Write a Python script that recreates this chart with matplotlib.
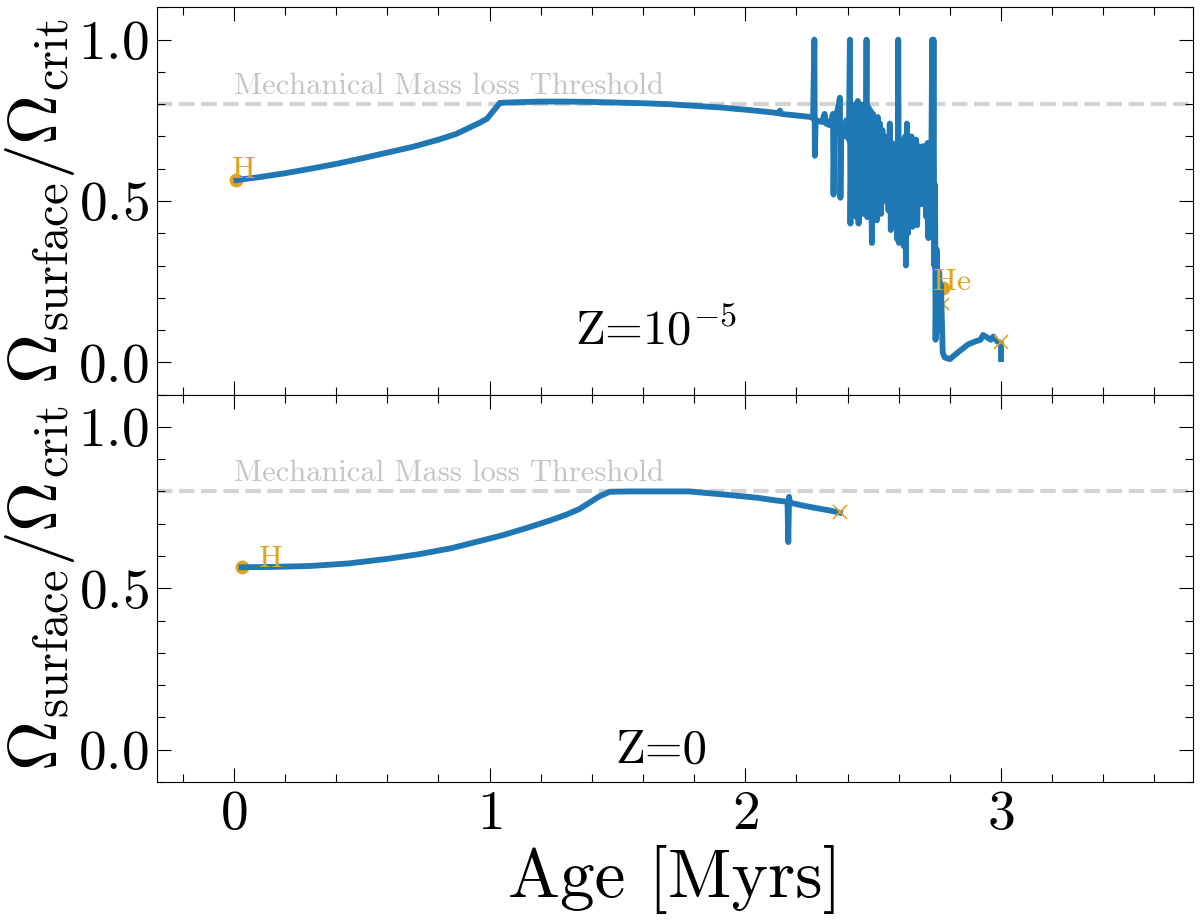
import matplotlib
matplotlib.use("Agg")
import matplotlib.pyplot as plt
from matplotlib.ticker import MultipleLocator

plt.rcParams["font.family"] = "serif"
plt.rcParams["font.serif"] = ["cmr10"]
plt.rcParams["mathtext.fontset"] = "cm"
plt.rcParams["axes.formatter.use_mathtext"] = True

# Z = 1e-5 track (age in Myr, Omega_surf / Omega_crit)
age_z5 = [0.01, 0.1, 0.2, 0.3, 0.4, 0.5, 0.6, 0.7, 0.8, 0.87, 0.92, 0.96, 0.99, 1.04,
          1.1, 1.2, 1.3, 1.4, 1.5, 1.6, 1.7, 1.8, 1.9, 2.0, 2.1, 2.13, 2.135, 2.14, 2.2, 2.26,
          2.265, 2.270, 2.272, 2.275, 2.30, 2.31, 2.315, 2.33, 2.343, 2.345, 2.348,
          2.37, 2.372, 2.375, 2.39, 2.395, 2.405, 2.409, 2.411, 2.415,
          2.420, 2.425, 2.430, 2.435, 2.440, 2.443, 2.448, 2.452, 2.456, 2.460,
          2.465, 2.470, 2.474, 2.477, 2.482, 2.486, 2.490, 2.495, 2.500, 2.505,
          2.510, 2.514, 2.518, 2.522, 2.527, 2.531, 2.536, 2.540, 2.545, 2.550,
          2.556, 2.560, 2.565, 2.569, 2.574, 2.578, 2.583, 2.587, 2.592, 2.595,
          2.598, 2.601, 2.606, 2.610, 2.615, 2.620, 2.625, 2.628, 2.632, 2.636,
          2.641, 2.645, 2.650, 2.654, 2.659, 2.663, 2.668, 2.672, 2.677, 2.681,
          2.686, 2.690, 2.695, 2.699, 2.704, 2.708, 2.713, 2.716, 2.720, 2.724,
          2.728, 2.731, 2.733, 2.736, 2.739, 2.742, 2.744, 2.748, 2.752, 2.755,
          2.758, 2.762, 2.765, 2.768, 2.772, 2.78, 2.80, 2.83, 2.87, 2.90, 2.92,
          2.93, 2.96, 2.97, 2.985, 3.0, 3.0]
omega_z5 = [0.565, 0.574, 0.586, 0.600, 0.615, 0.632, 0.650, 0.668, 0.690, 0.708, 0.727, 0.742, 0.755, 0.804,
            0.806, 0.808, 0.808, 0.807, 0.805, 0.803, 0.800, 0.795, 0.790, 0.783, 0.775, 0.772, 0.78, 0.77, 0.765, 0.76,
            0.755, 1.00, 0.64, 0.75, 0.745, 0.77, 0.74, 0.735, 0.77, 0.52, 0.73,
            0.82, 0.51, 0.72, 0.70, 0.75, 0.69, 1.00, 0.43, 0.70,
            0.78, 0.47, 0.80, 0.45, 0.81, 0.43, 0.80, 0.50, 0.79, 0.46,
            0.80, 0.48, 1.00, 0.45, 0.79, 0.47, 0.78, 0.37, 0.77, 0.46,
            0.75, 0.44, 0.76, 0.48, 0.74, 0.46, 0.72, 0.50, 0.70, 0.52,
            0.69, 0.47, 0.74, 0.41, 0.68, 0.52, 0.66, 0.55, 0.67, 0.38,
            1.00, 0.37, 0.69, 0.45, 0.68, 0.36, 0.70, 0.30, 0.74, 0.40,
            0.69, 0.47, 0.70, 0.42, 0.68, 0.49, 0.69, 0.425, 0.67, 0.50,
            0.66, 0.49, 0.67, 0.50, 0.66, 0.45, 0.68, 0.385, 0.66, 0.45,
            0.68, 1.00, 0.40, 1.00, 0.30, 0.55, 0.07, 0.35, 0.25, 0.10,
            0.28, 0.20, 0.24, 0.15, 0.03, 0.015, 0.01, 0.03, 0.055, 0.065, 0.07,
            0.085, 0.07, 0.08, 0.065, 0.06, 0.01]

# Z = 0 track
age_z0 = [0.03, 0.15, 0.3, 0.45, 0.6, 0.72, 0.85, 0.97, 1.05, 1.15, 1.24, 1.3, 1.35, 1.39, 1.43, 1.47,
          1.55, 1.65, 1.78, 1.85, 1.95, 2.05, 2.12, 2.165, 2.168, 2.171, 2.175,
          2.22, 2.28, 2.33, 2.37]
omega_z0 = [0.565, 0.566, 0.569, 0.577, 0.591, 0.605, 0.624, 0.648, 0.664, 0.688, 0.711, 0.728, 0.745, 0.765, 0.785, 0.799,
            0.800, 0.800, 0.800, 0.795, 0.788, 0.780, 0.772, 0.768, 0.643, 0.783, 0.765,
            0.757, 0.748, 0.741, 0.734]

threshold = 0.8
orange = "#E0A41E"

fig, axes = plt.subplots(2, 1, figsize=(12, 9.22), dpi=100, sharex=True)
fig.subplots_adjust(left=0.131, right=0.994, top=0.992, bottom=0.152, hspace=0)

tracks = [(age_z5, omega_z5), (age_z0, omega_z0)]
for ax, (age, om) in zip(axes, tracks):
    ax.axhline(threshold, color="lightgray", ls="--", lw=3, zorder=1)
    ax.text(0.0, 0.832, "Mechanical Mass loss Threshold", color="#c4c4c4", fontsize=22)
    ax.plot(age[0], om[0], "o", color=orange, ms=9, zorder=2)
    ax.plot(age, om, color="#1f77b4", lw=4.2, zorder=3)
    ax.set_ylim(-0.1, 1.1)
    ax.set_xlim(-0.3, 3.75)
    ax.xaxis.set_major_locator(MultipleLocator(1))
    ax.xaxis.set_minor_locator(MultipleLocator(0.2))
    ax.yaxis.set_major_locator(MultipleLocator(0.5))
    ax.yaxis.set_minor_locator(MultipleLocator(0.1))
    ax.tick_params(which="both", direction="in", top=True, right=True, labelsize=40, width=0.8)
    ax.tick_params(which="major", length=10, pad=6)
    ax.tick_params(which="minor", length=6)
    ax.set_ylabel(r"$\Omega_{\rm surface}/\Omega_{\rm crit}$", fontsize=50)
    ax.yaxis.set_label_coords(-0.077, 0.5)

axes[0].plot(3.0, 0.062, "x", color=orange, ms=10, mew=1.2, zorder=4)
axes[0].text(-0.008, 0.571, "H", color=orange, fontsize=23)
axes[0].plot(2.772, 0.23, "o", color=orange, ms=9, zorder=2)
axes[0].plot(2.772, 0.18, "x", color=orange, ms=9, mew=1.2, zorder=2)
axes[0].text(2.735, 0.225, "He", color=orange, fontsize=23, zorder=5)
axes[0].text(1.65, 0.055, r"Z=$10^{-5}$", fontsize=35, ha="center")

axes[1].plot(2.37, 0.736, "x", color=orange, ms=10, mew=1.2, zorder=4)
axes[1].text(0.10, 0.565, "H", color=orange, fontsize=23)
axes[1].text(1.67, -0.04, "Z=0", fontsize=35, ha="center")
axes[1].set_xlabel("Age [Myrs]", fontsize=50)

fig.savefig("out.png", dpi=100)
